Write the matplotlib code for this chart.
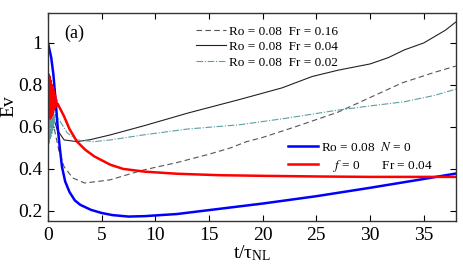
import numpy as np
import matplotlib.pyplot as plt

plt.rcParams['font.family'] = ['Liberation Serif', 'DejaVu Serif']
plt.rcParams['mathtext.fontset'] = 'stix'

# Ro=0.08, N=0 (blue)
t_blue = [0, 0.3, 0.5, 0.7, 0.9, 1.1, 1.3, 1.6, 2.0, 2.5, 3, 4, 5, 6, 7.5, 9, 12, 16, 20, 25, 30, 35, 38]
ev_blue = [1.0, 0.93, 0.85, 0.73, 0.6, 0.5, 0.41, 0.34, 0.29, 0.25, 0.229, 0.205, 0.19, 0.18, 0.173,
           0.175, 0.185, 0.21, 0.235, 0.27, 0.31, 0.352, 0.378]

# f=0, Fr=0.04 (red), noisy start
t_red = [0, 0.05, 0.1, 0.15, 0.2, 0.25, 0.3, 0.35, 0.4, 0.45, 0.5, 0.55, 0.6, 0.65, 0.7, 0.75, 0.8,
         0.9, 1.0, 1.5, 2.0, 2.7, 3.5, 4.3, 5.8, 7, 9, 12, 16, 20, 25, 30, 38]
ev_red = [0.76, 0.85, 0.66, 0.84, 0.64, 0.82, 0.65, 0.8, 0.66, 0.79, 0.68, 0.77, 0.69, 0.75, 0.7, 0.73, 0.7,
          0.71, 0.7, 0.65, 0.59, 0.53, 0.49, 0.46, 0.42, 0.4, 0.387, 0.377, 0.37, 0.367, 0.364, 0.362, 0.362]

# Ro=0.08, Fr=0.16 (dashed)
t_d = [0, 0.2, 0.55, 1.0, 1.5, 2.3, 3.4, 4.6, 5.8, 7.3, 8.9, 12, 15, 17, 18.5, 20, 23, 27, 30, 33, 36, 38]
ev_d = [0.8, 0.7, 0.6, 0.49, 0.41, 0.357, 0.333, 0.34, 0.348, 0.371, 0.395, 0.43, 0.47, 0.5, 0.53, 0.55,
        0.6, 0.67, 0.74, 0.81, 0.86, 0.89]

# Ro=0.08, Fr=0.04 (solid black), noisy start
t_s = [0, 0.05, 0.1, 0.15, 0.2, 0.25, 0.3, 0.35, 0.4, 0.5, 0.6, 0.86, 1.5, 2.7, 4, 5.8, 8.9, 13.1, 17.8,
       21.8, 24.6, 27, 30, 31.7, 33.2, 35, 37, 38]
ev_s = [0.78, 0.62, 0.74, 0.6, 0.7, 0.63, 0.66, 0.6, 0.64, 0.62, 0.63, 0.586, 0.538, 0.53, 0.54, 0.562,
        0.605, 0.667, 0.73, 0.786, 0.84, 0.87, 0.9, 0.93, 0.967, 1.0, 1.06, 1.1]

# Ro=0.08, Fr=0.02 (teal dash-dot), noisy start
t_g = [0, 0.04, 0.08, 0.12, 0.16, 0.2, 0.24, 0.28, 0.32, 0.36, 0.4, 0.44, 0.48, 0.52, 0.56, 0.6, 0.7,
       0.86, 1.8, 2.7, 4.3, 5.8, 8.9, 13, 17.8, 22, 27, 30, 33.2, 36, 38]
ev_g = [0.8, 0.5, 0.78, 0.52, 0.77, 0.54, 0.75, 0.55, 0.74, 0.57, 0.72, 0.58, 0.71, 0.6, 0.69, 0.62, 0.66,
        0.649, 0.571, 0.538, 0.53, 0.538, 0.562, 0.59, 0.61, 0.64, 0.68, 0.7, 0.72, 0.75, 0.78]

fig = plt.figure(figsize=(4.63, 2.64), dpi=100)
ax = fig.add_axes([0.1037, 0.163, 0.881, 0.788])

l1, = ax.plot(t_d, ev_d, color='#555555', lw=0.8, ls=(0, (5, 3)))
l2, = ax.plot(t_s, ev_s, color='#222222', lw=0.8)
l3, = ax.plot(t_g, ev_g, color='#5f9ea0', lw=0.8, ls=(0, (6, 1.5, 1, 1.5)))
l4, = ax.plot(t_blue, ev_blue, color='#0000ff', lw=1.8)
l5, = ax.plot(t_red, ev_red, color='#ff0000', lw=1.8)

ax.set_xlim(0, 38)
ax.set_ylim(0.152, 1.143)
ax.set_xticks([0, 5, 10, 15, 20, 25, 30, 35])
ax.set_yticks([0.2, 0.4, 0.6, 0.8, 1.0])
ax.set_yticklabels(['0.2', '0.4', '0.6', '0.8', '1'])
ax.tick_params(direction='in', top=True, right=True, length=4, labelsize=14, pad=4)
for s in ax.spines.values():
    s.set_linewidth(1.0)
    s.set_color('#333333')

ax.set_xlabel(r'$\mathregular{t/\tau_{NL}}$', fontsize=14, labelpad=0)
ax.set_ylabel('Ev', fontsize=14)
ax.yaxis.set_label_coords(-0.075, 0.55)
ax.text(0.04, 0.88, '(a)', transform=ax.transAxes, fontsize=13)

leg1 = ax.legend([l1, l2, l3],
                 ['Ro = 0.08  Fr = 0.16', 'Ro = 0.08  Fr = 0.04', 'Ro = 0.08  Fr = 0.02'],
                 loc='upper left', bbox_to_anchor=(0.34, 0.985), frameon=False, fontsize=9.5,
                 handlelength=2.3, handletextpad=0.2, labelspacing=0.25, borderaxespad=0.3)
ax.add_artist(leg1)
ax.legend([l4, l5], [r'Ro = 0.08  $N$ = 0', r'    $f$ = 0       Fr = 0.04'],
          loc='upper left', bbox_to_anchor=(0.565, 0.43), frameon=False, fontsize=9.5,
          handlelength=2.3, handletextpad=0.2, labelspacing=0.3, borderaxespad=0.3)

fig.savefig('out.png', dpi=100)
